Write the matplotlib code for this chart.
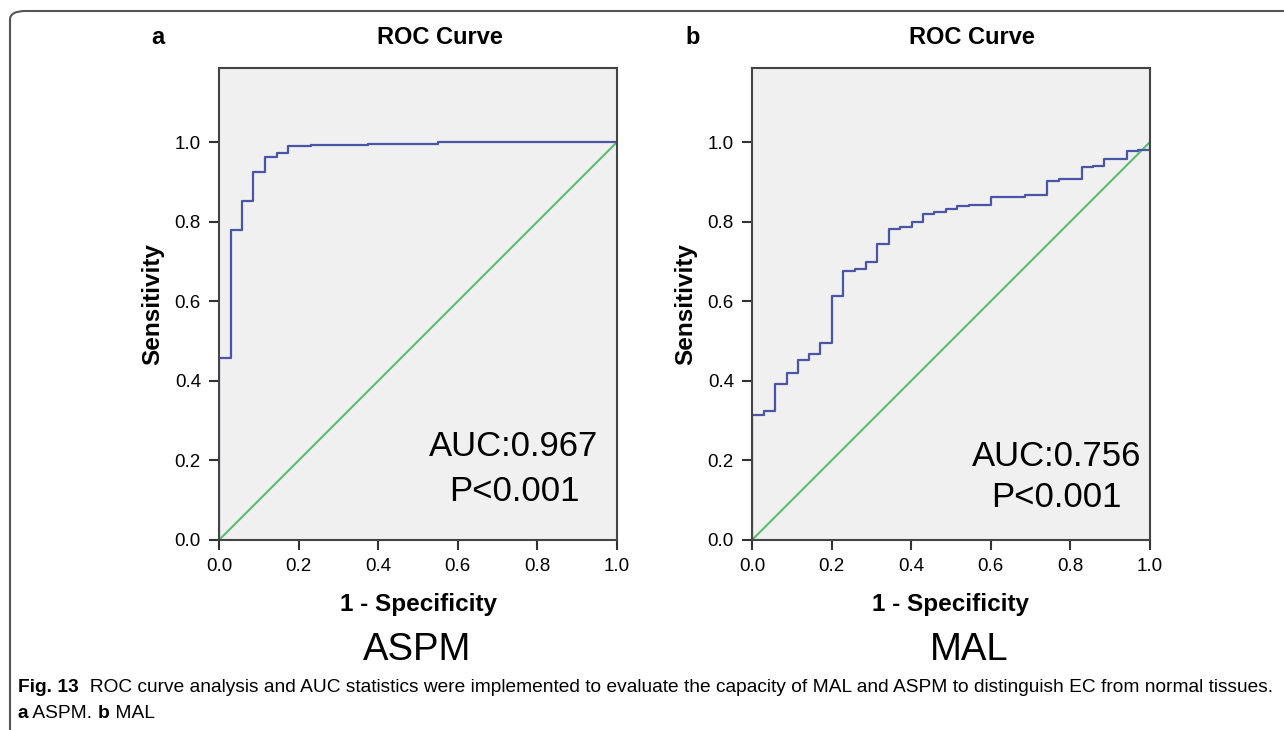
import matplotlib
matplotlib.use("Agg")
import matplotlib.pyplot as plt
from matplotlib.patches import FancyBboxPatch

plt.rcParams['font.family'] = ['Liberation Sans', 'DejaVu Sans']

# ROC step curves (1 - specificity, sensitivity)
fpr_aspm = [0, 0, 0.030, 0.059, 0.086, 0.116, 0.145, 0.173, 0.231, 0.374, 0.55, 1.0]
tpr_aspm = [0, 0.457, 0.780, 0.852, 0.925, 0.963, 0.972, 0.990, 0.993, 0.996, 1.0, 1.0]

fpr_mal = [0, 0, 0.030, 0.058, 0.087, 0.116, 0.144, 0.172, 0.202, 0.229, 0.259,
           0.286, 0.315, 0.344, 0.372, 0.401, 0.429, 0.458, 0.487, 0.516, 0.544,
           0.600, 0.686, 0.742, 0.771, 0.828, 0.858, 0.885, 0.943, 0.971, 1.0]
tpr_mal = [0, 0.314, 0.324, 0.391, 0.419, 0.452, 0.467, 0.494, 0.613, 0.677, 0.681,
           0.698, 0.744, 0.782, 0.786, 0.800, 0.819, 0.825, 0.831, 0.839, 0.841,
           0.861, 0.868, 0.902, 0.908, 0.938, 0.940, 0.958, 0.977, 0.980, 1.0]

panels = [
    {"letter": "a", "name": "ASPM", "fpr": fpr_aspm, "tpr": tpr_aspm,
     "auc": "AUC:0.967", "p": "P<0.001"},
    {"letter": "b", "name": "MAL", "fpr": fpr_mal, "tpr": tpr_mal,
     "auc": "AUC:0.756", "p": "P<0.001"},
]
ticks = [0.0, 0.2, 0.4, 0.6, 0.8, 1.0]

W, H = 1284, 730
fig = plt.figure(figsize=(W / 100, H / 100), dpi=100)

# rounded frame around figure
frame = FancyBboxPatch((10 / W, -0.05), 1.1, 1 - 11 / H + 0.05,
                       boxstyle="round,pad=0,rounding_size=0.012",
                       transform=fig.transFigure, fill=False,
                       edgecolor='#555555', lw=1.5, clip_on=False)
fig.patches.append(frame)

lefts = [219, 752]
text_pos = [(0.741, 0.234, 0.121), (0.766, 0.209, 0.108)]
title_x = [440, 972]
letter_x = [158, 693]
name_x = [417, 969]

for i, p in enumerate(panels):
    ax = fig.add_axes([lefts[i] / W, 1 - 540 / H, 398 / W, 472 / H])
    ax.set_facecolor('#f0f0f0')
    ax.plot([0, 1], [0, 1], color='#5cbb6e', lw=1.5)
    ax.step(p["fpr"], p["tpr"], where='post', color='#4a55a6', lw=1.6)
    ax.set_xlim(0, 1)
    ax.set_ylim(0, 1.186)
    ax.set_xticks(ticks)
    ax.set_yticks(ticks)
    ax.set_xticklabels([f"{t:.1f}" for t in ticks])
    ax.set_yticklabels([f"{t:.1f}" for t in ticks])
    ax.tick_params(direction='out', length=7, width=1.5, color='#333333',
                   labelsize=13.5, pad=6, top=False, right=False)
    for s in ax.spines.values():
        s.set_color('#444444')
        s.set_linewidth(1.5)

    ax.text(-0.166, 0.5, "Sensitivity", transform=ax.transAxes, rotation=90,
            ha='center', va='center', fontsize=17.5, fontweight='bold')
    ax.text(0.5, -0.1356, "1 - Specificity", transform=ax.transAxes,
            ha='center', va='center', fontsize=17.5, fontweight='bold')

    tx, ty1, ty2 = text_pos[i]
    ax.text(tx, ty1, p["auc"], ha='center', va='center', fontsize=25)
    ax.text(tx, ty2, p["p"], ha='center', va='center', fontsize=25)

    fig.text(title_x[i] / W, 1 - 38 / H, "ROC Curve", ha='center', va='center',
             fontsize=17, fontweight='bold')
    fig.text(letter_x[i] / W, 1 - 38 / H, p["letter"], ha='center', va='center',
             fontsize=17, fontweight='bold')
    fig.text(name_x[i] / W, 1 - 650 / H, p["name"], ha='center', va='center',
             fontsize=27.5)

# caption with bold lead-ins
cap_font = ['Liberation Sans', 'DejaVu Sans']
renderer = fig.canvas.get_renderer()


def run_text(x_px, y_px, parts):
    for txt, weight in parts:
        t = fig.text(x_px / W, 1 - y_px / H, txt, ha='left', va='center',
                     fontsize=13.8, fontweight=weight, family=cap_font)
        bb = t.get_window_extent(renderer=renderer)
        x_px = bb.x1


run_text(18, 688, [("Fig. 13", 'bold'),
                   ("  ROC curve analysis and AUC statistics were implemented to evaluate the capacity of MAL and ASPM to distinguish EC from normal tissues.", 'normal')])
run_text(18, 714, [("a", 'bold'), (" ASPM. ", 'normal'), ("b", 'bold'), (" MAL", 'normal')])

fig.savefig("out.png", dpi=100)
